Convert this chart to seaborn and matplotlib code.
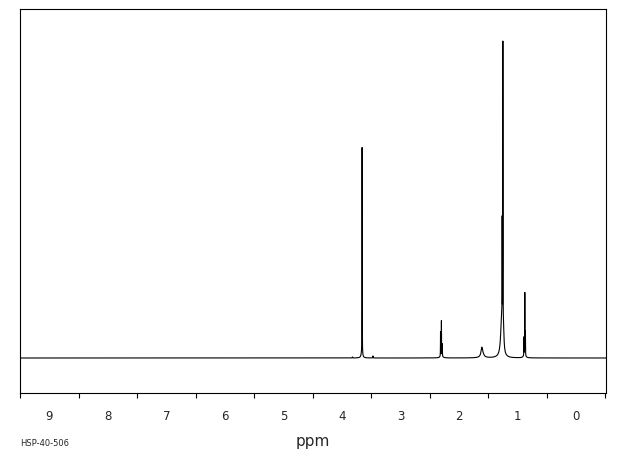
import numpy as np
import pandas as pd
import matplotlib
matplotlib.use("Agg")
import matplotlib.pyplot as plt
import seaborn as sns

# Peaks: centre (ppm), height (arbitrary units), half width (ppm)
peak_ppm = [3.655, 3.660, 3.47, 3.82,
            2.300, 2.315, 2.285, 2.30,
            1.610, 1.600,
            1.250, 1.262, 1.270, 1.240,
            0.875, 0.865, 0.890, 0.88]
peak_height = [207, 4, 2, 1,
               34, 24, 12, 3,
               7, 4,
               286, 100, 40, 20,
               62, 24, 18, 3]
peak_width = [0.0015, 0.015, 0.003, 0.003,
              0.0015, 0.0015, 0.0015, 0.02,
              0.015, 0.03,
              0.0015, 0.0015, 0.02, 0.01,
              0.0015, 0.0015, 0.0015, 0.02]

tick_values = [9, 8, 7, 6, 5, 4, 3, 2, 1, 0]
code_label = "HSP-40-506"

ppm = np.linspace(9.6, -0.6, 40000)
intensity = np.zeros_like(ppm)
for c, h, w in zip(peak_ppm, peak_height, peak_width):
    intensity += h * w**2 / ((ppm - c) ** 2 + w**2)

df = pd.DataFrame({"ppm": ppm, "intensity": intensity})

sns.set_style("white")
plt.rcParams['font.family'] = ['DejaVu Sans']

fig = plt.figure(figsize=(6.2, 4.55), dpi=100)
ax = fig.add_axes([20 / 620, 62 / 455, 586 / 620, 384 / 455])
sns.lineplot(data=df, x="ppm", y="intensity", ax=ax, color="black",
             linewidth=0.8, estimator=None, sort=False)

ax.set_xlim(9.495, -0.512)
ax.set_ylim(-35, 349)
ax.set_yticks([])
ax.set_ylabel("")
ax.set_xticks(tick_values)
ax.set_xticklabels([str(t) for t in tick_values])
ax.set_xticks(np.arange(-0.5, 9.6, 0.5), minor=True)
ax.tick_params(axis="x", which="major", direction="out", length=7.2, width=0.8,
               color="black", pad=5, labelsize=8.5)
ax.tick_params(axis="x", which="minor", direction="out", length=3.6, width=0.8,
               color="black", bottom=True)
ax.set_xlabel("ppm", fontsize=11, labelpad=8)
for s in ax.spines.values():
    s.set_color("black")
    s.set_linewidth(0.8)

fig.text(20 / 620, 7 / 455, code_label, fontsize=6, ha="left", va="bottom")

fig.savefig("out.png", dpi=100)
